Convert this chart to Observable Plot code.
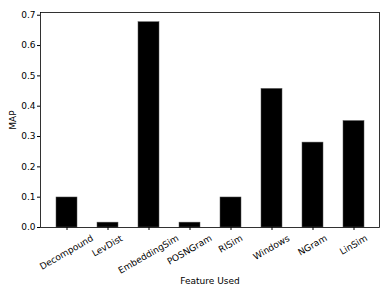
<!DOCTYPE html>
<html>
<head>
<meta charset="utf-8">
<script src="https://cdn.jsdelivr.net/npm/d3@7"></script>
<script src="https://cdn.jsdelivr.net/npm/@observablehq/plot@0.6"></script>
<style>
  html, body { margin: 0; padding: 0; background: #fff; }
  #chart { width: 390px; height: 293px; }
</style>
</head>
<body>
<div id="chart"></div>
<script>
const features = ["Decompound", "LevDist", "EmbeddingSim", "POSNGram", "RISim", "Windows", "NGram", "LinSim"];
const mapValues = [0.099, 0.016, 0.677, 0.016, 0.099, 0.457, 0.280, 0.351];
const yTicks = [0.0, 0.1, 0.2, 0.3, 0.4, 0.5, 0.6, 0.7];

const data = features.map((f, i) => ({feature: f, value: mapValues[i]}));

const plot = Plot.plot({
  width: 390,
  height: 293,
  marginLeft: 40,
  marginRight: 11,
  marginTop: 12,
  marginBottom: 66,
  style: {fontFamily: "DejaVu Sans", fontSize: "9px", color: "#000", background: "#fff"},
  x: {domain: features, paddingInner: 0.5, paddingOuter: 0.375},
  y: {domain: [0, 0.709]},
  marks: [
    Plot.barY(data, {x: "feature", y: "value", fill: "#000", stroke: "#555", strokeWidth: 0.5}),
    Plot.frame({stroke: "#000", strokeWidth: 0.8}),
    Plot.axisY({ticks: yTicks, tickSize: 3, tickPadding: 2, tickFormat: d3.format(".1f"),
      label: "MAP", labelAnchor: "center", labelArrow: "none", labelOffset: 31}),
    Plot.axisX({tickSize: 3, tickPadding: 3, tickRotate: -30, textAnchor: "middle",
      label: "Feature Used", labelAnchor: "center", labelArrow: "none", labelOffset: 56})
  ]
});
document.getElementById("chart").appendChild(plot);

// center each rotated tick label's bounding box under its tick, top aligned below the tick
const svgRect = plot.getBoundingClientRect();
const xs = plot.scale("x");
const topY = 233;
plot.querySelectorAll('g[aria-label="x-axis tick label"] text').forEach((t, i) => {
  const r = t.getBoundingClientRect();
  const cx = r.left - svgRect.left + r.width / 2;
  const top = r.top - svgRect.top;
  const tickX = xs.apply(features[i]) + xs.bandwidth / 2;
  const dx = tickX - cx, dy = topY - top;
  t.setAttribute("transform", `translate(${dx},${dy}) ` + (t.getAttribute("transform") || ""));
});
</script>
</body>
</html>
